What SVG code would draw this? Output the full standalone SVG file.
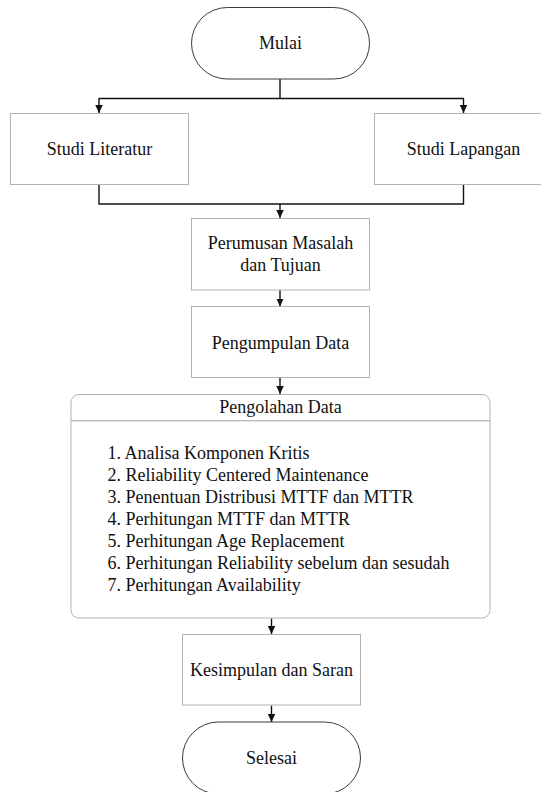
<svg xmlns="http://www.w3.org/2000/svg" width="541" height="792" viewBox="0 0 541 792">
<defs>
<style>
.term{fill:#fff;stroke:#3a3a3a;stroke-width:1}
.box{fill:#fff;stroke:#b3b3b3;stroke-width:1}
.sep{stroke:#a0a0a0;stroke-width:1;fill:none}
.conn{fill:none;stroke:#111;stroke-width:1.4}
text{font-family:"Liberation Serif","Times New Roman",serif;font-size:18px;fill:#111}
.c{text-anchor:middle}
</style>
<marker id="ah" markerUnits="userSpaceOnUse" markerWidth="9" markerHeight="8" refX="8" refY="3.75" orient="auto">
<path d="M0,0 L8,3.75 L0,7.5 Z" fill="#111"/>
</marker>
</defs>
<rect width="541" height="792" fill="#fff"/>
<g id="connectors">
<path class="conn" d="M280,79 V98.5"/>
<path class="conn" d="M99,98.5 H463.5"/>
<path class="conn" d="M99,98 V113" marker-end="url(#ah)"/>
<path class="conn" d="M463.5,98 V113" marker-end="url(#ah)"/>
<path class="conn" d="M99,184.5 V204 H463.5 V184.5"/>
<path class="conn" d="M280,204 V218" marker-end="url(#ah)"/>
<path class="conn" d="M280,290 V306.5" marker-end="url(#ah)"/>
<path class="conn" d="M280,377.5 V394" marker-end="url(#ah)"/>
<path class="conn" d="M271.5,618.5 V634" marker-end="url(#ah)"/>
<path class="conn" d="M271.5,705.5 V722" marker-end="url(#ah)"/>
</g>
<g id="mulai">
<rect class="term" x="191.5" y="7.5" width="178" height="71.5" rx="35.75" ry="35.75"/>
<text class="c" x="280.5" y="49">Mulai</text>
</g>
<g id="studi-literatur">
<rect class="box" x="10.5" y="113.5" width="178" height="71"/>
<text class="c" x="99.5" y="155">Studi Literatur</text>
</g>
<g id="studi-lapangan">
<rect class="box" x="374.5" y="113.5" width="178" height="71"/>
<text class="c" x="463.5" y="155">Studi Lapangan</text>
</g>
<g id="perumusan">
<rect class="box" x="191.5" y="218.5" width="178" height="71.5"/>
<text class="c" x="280.5" y="249">Perumusan Masalah</text>
<text class="c" x="280.5" y="271">dan Tujuan</text>
</g>
<g id="pengumpulan">
<rect class="box" x="191.5" y="306.5" width="178" height="71"/>
<text class="c" x="280.5" y="348.5">Pengumpulan Data</text>
</g>
<g id="pengolahan">
<rect class="box" x="71" y="394.5" width="419" height="223.5" rx="8" ry="8"/>
<path class="sep" d="M71,420.75 H490"/>
<text class="c" x="280.5" y="413">Pengolahan Data</text>
<text x="107.5" y="459">1. Analisa Komponen Kritis</text>
<text x="107.5" y="481">2. Reliability Centered Maintenance</text>
<text x="107.5" y="503">3. Penentuan Distribusi MTTF dan MTTR</text>
<text x="107.5" y="525">4. Perhitungan MTTF dan MTTR</text>
<text x="107.5" y="547">5. Perhitungan Age Replacement</text>
<text x="107.5" y="569">6. Perhitungan Reliability sebelum dan sesudah</text>
<text x="107.5" y="591">7. Perhitungan Availability</text>
</g>
<g id="kesimpulan">
<rect class="box" x="182.5" y="634.5" width="178" height="70.5"/>
<text class="c" x="271.5" y="676">Kesimpulan dan Saran</text>
</g>
<g id="selesai">
<rect class="term" x="182.5" y="722" width="178" height="72" rx="36" ry="36"/>
<text class="c" x="271.5" y="764">Selesai</text>
</g>
</svg>
